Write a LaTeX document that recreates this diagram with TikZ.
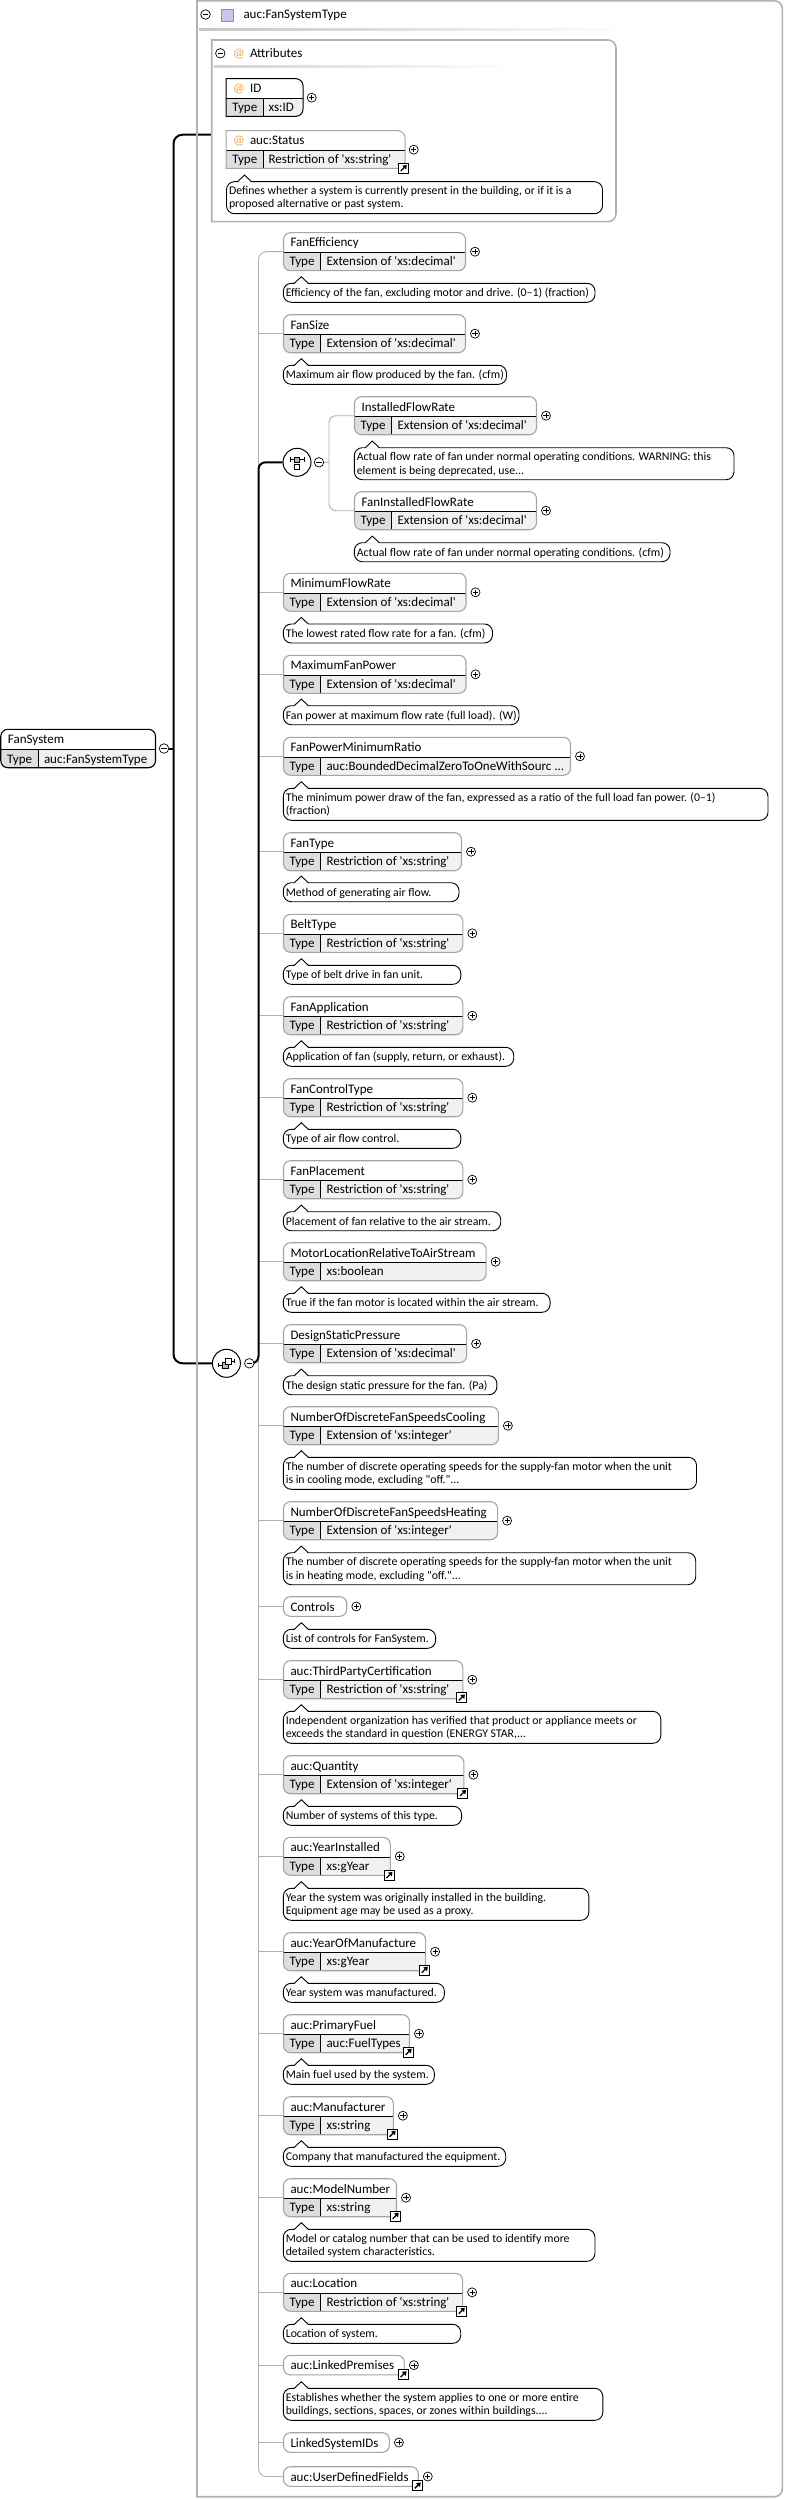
\documentclass[tikz,border=0pt]{standalone}
\usepackage{fontspec}
\setmainfont{Carlito}
\usetikzlibrary{backgrounds}
\definecolor{bgray}{RGB}{165,165,165}
\definecolor{ogray}{RGB}{178,178,178}
\definecolor{cgray}{RGB}{175,175,175}
\definecolor{tcell}{RGB}{222,222,222}
\definecolor{vcell}{RGB}{241,241,241}
\definecolor{atcol}{RGB}{235,160,60}
\definecolor{purp}{RGB}{205,195,235}
\definecolor{purpd}{RGB}{150,135,190}
\newcommand\squo{\textquotesingle}
\newcommand\dquo{\textquotedbl}
% element box with type row
\newcommand\EL[7]{%
 \begin{scope}
  \clip[rounded corners=7pt] (#2,#3) rectangle (#4,#3+38);
  \fill[tcell] (#2,#3+20) rectangle (#2+37,#3+38);
  \fill[vcell] (#2+37,#3+20) rectangle (#4,#3+38);
 \end{scope}
 \draw[line width=0.9pt] (#2,#3+20) -- (#4,#3+20) (#2+37,#3+20) -- (#2+37,#3+38);
 \node[elb, draw=#7, minimum width={(#4-#2)*1pt}, minimum height=38pt, anchor=north west] (#1) at (#2,#3) {};
 \node[txt] (#1-n) at (#2+7,#3+14.3) {#5};
 \node[txtc] (#1-t) at (#2+18.5,#3+33) {Type};
 \node[txt] (#1-v) at (#2+43,#3+33) {#6};
 \node[plusc] (#1-p) at (#4+9.5,#3+19) {};
}
% single row element
\newcommand\ES[5]{%
 \node[elb, draw=bgray, fill=white, minimum width={(#4-#2)*1pt}, minimum height=19.6pt, anchor=north west] (#1) at (#2,#3) {};
 \node[txt] (#1-n) at (#2+7,#3+14.3) {#5};
 \node[plusc] (#1-p) at (#4+9.6,#3+9.8) {};
}
% attribute box
\newcommand\AT[7]{%
 \begin{scope}
  \clip (#2,#3) -- (#4-7,#3) arc[start angle=90,end angle=0,radius=7pt] -- (#4,#3+30.6) arc[start angle=0,end angle=-90,radius=7pt] -- (#2,#3+37.6) -- cycle;
  \fill[tcell] (#2,#3+19.8) rectangle (#2+37.5,#3+37.6);
  \fill[vcell] (#2+37.5,#3+19.8) rectangle (#4,#3+37.6);
 \end{scope}
 \draw[line width=0.9pt] (#2,#3+19.8) -- (#4,#3+19.8) (#2+37.5,#3+19.8) -- (#2+37.5,#3+37.6);
 \draw[draw=#7, line width=1pt] (#2,#3) -- (#4-7,#3) arc[start angle=90,end angle=0,radius=7pt] -- (#4,#3+30.6) arc[start angle=0,end angle=-90,radius=7pt] -- (#2,#3+37.6) -- cycle;
 \node[anchor=north west, inner sep=0pt, minimum width={(#4-#2)*1pt}, minimum height=37.6pt] (#1) at (#2,#3) {};
 \node[txt, text=atcol] (#1-at) at (#2+7,#3+14.3) {@};
 \node[txt] (#1-n) at (#2+24,#3+14.3) {#5};
 \node[txtc] (#1-t) at (#2+18.75,#3+33) {Type};
 \node[txt] (#1-v) at (#2+42.5,#3+33) {#6};
 \node[plusc] (#1-p) at (#4+8.7,#3+19) {};
}
% arrow icon
\newcommand\AR[3]{%
 \node[arrb] (#1) at (#2,#3) {};
 \draw[line width=1.3pt] (#2-2.7,#3+2.7) -- (#2+1,#3-1);
 \fill (#2+3.3,#3-3.3) -- (#2-1.3,#3-2.6) -- (#2+2.6,#3+1.3) -- cycle;
}
% one-line description
\newcommand\DA[5]{%
 \node[descb, minimum width={(#4-#2)*1pt}, minimum height=19pt, anchor=north west] (#1) at (#2,#3) {};
 \fill[white] (#2+11,#3+0.8) -- (#2+18,#3-6.6) -- (#2+25,#3+0.8) -- cycle;
 \draw[line width=0.9pt] (#2+11,#3) -- (#2+18,#3-6.6) -- (#2+25,#3);
 \node[txtd] (#1-a) at (#2+2.5,#3+13.6) {#5};
}
% two-line description
\newcommand\DB[6]{%
 \node[descb, minimum width={(#4-#2)*1pt}, minimum height=32pt, anchor=north west] (#1) at (#2,#3) {};
 \fill[white] (#2+11,#3+0.8) -- (#2+18,#3-6.6) -- (#2+25,#3+0.8) -- cycle;
 \draw[line width=0.9pt] (#2+11,#3) -- (#2+18,#3-6.6) -- (#2+25,#3);
 \node[txtd] (#1-a) at (#2+2.5,#3+13) {#5};
 \node[txtd] (#1-b) at (#2+2.5,#3+26.3) {#6};
}
\begin{document}
\begin{tikzpicture}[x=1pt,y=-1pt,
  font=\fontsize{13}{15}\selectfont,
  txt/.style={anchor=base west, inner sep=0pt, outer sep=0pt},
  txtd/.style={anchor=base west, inner sep=0pt, outer sep=0pt, font=\fontsize{11.8}{14}\selectfont},
  txtc/.style={anchor=base, inner sep=0pt, outer sep=0pt},
  elb/.style={rectangle, rounded corners=7pt, line width=1.1pt, inner sep=0pt, outer sep=0pt},
  descb/.style={rectangle, draw, rounded corners=8pt, line width=0.9pt, fill=white, inner sep=0pt, outer sep=0pt},
  arrb/.style={rectangle, draw, fill=white, line width=0.9pt, minimum size=10pt, inner sep=0pt},
  plusc/.style={circle, draw, line width=0.7pt, minimum size=9pt, inner sep=0pt, fill=white,
    path picture={\draw[line width=0.7pt] ([xshift=-2.6pt]path picture bounding box.center) -- ([xshift=2.6pt]path picture bounding box.center) ([yshift=-2.6pt]path picture bounding box.center) -- ([yshift=2.6pt]path picture bounding box.center);}},
  minusc/.style={circle, draw, line width=0.7pt, minimum size=9.5pt, inner sep=0pt, fill=white,
    path picture={\draw[line width=0.8pt] ([xshift=-2.6pt]path picture bounding box.center) -- ([xshift=2.6pt]path picture bounding box.center);}},
  iconc/.style={circle, draw, line width=1pt, minimum size=28pt, inner sep=0pt, fill=white},
  conn/.style={draw=cgray, line width=0.9pt},
  bold/.style={draw=black, line width=2pt},
  obox/.style={draw=ogray, line width=1.6pt}
]
\useasboundingbox (0,0) rectangle (785,2499);

% outer type box
\draw[obox] (197,0.8) -- (774.3,0.8) arc[start angle=90,end angle=0,radius=8pt] -- (782.3,2488.7) arc[start angle=0,end angle=-90,radius=8pt] -- (197,2496.7) -- cycle;
\node[minusc] (tm) at (205.5,14.5) {};
\node[draw=purpd, fill=purp, line width=0.7pt, minimum width=12pt, minimum height=12pt, inner sep=0pt] (ticon) at (227,15) {};
\node[txt] (ttitle) at (243.5,19) {auc:FanSystemType};
\shade[left color=gray!45, right color=white] (199,28.3) rectangle (635,30.5);

% attributes container
\draw[obox] (211.7,40) -- (608,40) arc[start angle=90,end angle=0,radius=8pt] -- (616,213.7) arc[start angle=0,end angle=-90,radius=8pt] -- (211.7,221.7) -- cycle;
\node[minusc] (am) at (220.3,53.3) {};
\node[txt, text=atcol] (aat) at (233,57.8) {@};
\node[txt] (atitle) at (250,57.8) {Attributes};
\shade[left color=gray!35, right color=white] (214,65.7) rectangle (520,67.8);
\coordinate (attrw) at (211.7,134.7);

\AT{id}{226}{78.7}{303}{ID}{xs:ID}{black}
\AT{st}{226}{130.7}{405}{auc:Status}{Restriction of \squo xs:string\squo}{bgray}
\AR{sta}{403.5}{168.3}
\DB{std}{226.5}{181.7}{602.5}{Defines whether a system is currently present in the building, or if it is a}{proposed alternative or past system.}

% FanSystem element
\begin{scope}
 \clip[rounded corners=7pt] (0.8,729.3) rectangle (155.5,767.7);
 \fill[tcell] (0.8,749.3) rectangle (38.5,767.7);
 \fill[vcell] (38.5,749.3) rectangle (155.5,767.7);
\end{scope}
\draw[line width=0.9pt] (0.8,749.3) -- (155.5,749.3) (38.5,749.3) -- (38.5,767.7);
\node[elb, draw=black, minimum width=154.7pt, minimum height=38.4pt, anchor=north west] (fsys) at (0.8,729.3) {};
\node[txt] (fsys-n) at (8,743.6) {FanSystem};
\node[txtc] (fsys-t) at (19.6,763) {Type};
\node[txt] (fsys-v) at (44,763) {auc:FanSystemType};
\node[minusc] (fsm) at (164,748.5) {};
\coordinate (hub) at (173.5,748.5);

% sequence compositor
\node[iconc] (seq) at (226.4,1363.3) {};
\draw[fill=gray!55, line width=0.6pt] (222.4,1362.3) rectangle (228.4,1368.3);
\draw[fill=white, line width=0.6pt] (225.4,1358.3) rectangle (231.4,1364.3);
\draw[line width=0.6pt] (218.4,1365.3) -- (222.4,1365.3) (218.4,1363.3) -- (218.4,1367.3) (231.4,1361.3) -- (234.4,1361.3) (234.4,1359.3) -- (234.4,1363.3);
\node[minusc] (seqm) at (249.3,1363.3) {};
\coordinate (sj) at (258.5,1363.3);

% choice compositor
\node[iconc] (ch) at (297,462.3) {};
\draw[line width=0.7pt] (290,459.3) -- (304,459.3) (290,456.8) -- (290,461.8) (304,456.8) -- (304,461.8);
\draw[fill=gray!60, line width=0.6pt] (294.5,456.8) rectangle (299.5,461.8);
\draw[fill=white, line width=0.6pt] (294.5,464) rectangle (299.5,469);
\node[minusc] (chm) at (319,462.3) {};
\coordinate (cj) at (329,462.3);

% sequence children
\EL{fe}{283.5}{232.7}{465.5}{FanEfficiency}{Extension of \squo xs:decimal\squo}{bgray}
\DA{fed}{283.3}{283.3}{595}{Efficiency of the fan, excluding motor and drive. (0\textendash1) (fraction)}
\EL{fs}{283.5}{314.7}{465.5}{FanSize}{Extension of \squo xs:decimal\squo}{bgray}
\DA{fsd}{283.3}{365.3}{506.5}{Maximum air flow produced by the fan. (cfm)}
\EL{ifr}{354.5}{396.7}{536.5}{InstalledFlowRate}{Extension of \squo xs:decimal\squo}{bgray}
\DB{ifrd}{354.3}{447.7}{734}{Actual flow rate of fan under normal operating conditions. WARNING: this}{element is being deprecated, use...}
\EL{fifr}{354.5}{491.7}{536.5}{FanInstalledFlowRate}{Extension of \squo xs:decimal\squo}{bgray}
\DA{fifrd}{354.3}{542.7}{670}{Actual flow rate of fan under normal operating conditions. (cfm)}
\EL{mfr}{283.5}{573.3}{466}{MinimumFlowRate}{Extension of \squo xs:decimal\squo}{bgray}
\DA{mfrd}{283.3}{624}{492.5}{The lowest rated flow rate for a fan. (cfm)}
\EL{mfp}{283.5}{655.3}{466}{MaximumFanPower}{Extension of \squo xs:decimal\squo}{bgray}
\DA{mfpd}{283.3}{705.7}{519}{Fan power at maximum flow rate (full load). (W)}
\EL{fpmr}{283.5}{737.3}{570.5}{FanPowerMinimumRatio}{auc:BoundedDecimalZeroToOneWithSourc ...}{bgray}
\DB{fpmrd}{283.3}{788.3}{768}{The minimum power draw of the fan, expressed as a ratio of the full load fan power. (0\textendash1)}{(fraction)}
\EL{ft}{283.5}{832.7}{461.5}{FanType}{Restriction of \squo xs:string\squo}{bgray}
\DA{ftd}{283.3}{882.7}{459}{Method of generating air flow.}
\EL{bt}{283.5}{914.3}{462.8}{BeltType}{Restriction of \squo xs:string\squo}{bgray}
\DA{btd}{283.3}{965.3}{460.8}{Type of belt drive in fan unit.}
\EL{fa}{283.5}{996.7}{462.8}{FanApplication}{Restriction of \squo xs:string\squo}{bgray}
\DA{fad}{283.3}{1047.3}{513.7}{Application of fan (supply, return, or exhaust).}
\EL{fct}{283.5}{1078.7}{462.8}{FanControlType}{Restriction of \squo xs:string\squo}{bgray}
\DA{fctd}{283.3}{1129.3}{460.8}{Type of air flow control.}
\EL{fp}{283.5}{1160.7}{462.8}{FanPlacement}{Restriction of \squo xs:string\squo}{bgray}
\DA{fpd}{283.3}{1211.7}{500.7}{Placement of fan relative to the air stream.}
\EL{ml}{283.5}{1242.7}{486.1}{MotorLocationRelativeToAirStream}{xs:boolean}{bgray}
\DA{mld}{283.3}{1293.3}{550.1}{True if the fan motor is located within the air stream.}
\EL{dsp}{283.5}{1324.7}{466.6}{DesignStaticPressure}{Extension of \squo xs:decimal\squo}{bgray}
\DA{dspd}{283.3}{1375.7}{496.9}{The design static pressure for the fan. (Pa)}
\EL{nc}{283.5}{1406.7}{498.4}{NumberOfDiscreteFanSpeedsCooling}{Extension of \squo xs:integer\squo}{bgray}
\DB{ncd}{283.3}{1457.3}{696.5}{The number of discrete operating speeds for the supply-fan motor when the unit}{is in cooling mode, excluding \dquo off.\dquo...}
\EL{nh}{283.5}{1501.7}{497.6}{NumberOfDiscreteFanSpeedsHeating}{Extension of \squo xs:integer\squo}{bgray}
\DB{nhd}{283.3}{1552.7}{695.7}{The number of discrete operating speeds for the supply-fan motor when the unit}{is in heating mode, excluding \dquo off.\dquo...}
\ES{ctl}{283.5}{1596.7}{346.7}{Controls}
\DA{ctld}{283.3}{1629.3}{435.6}{List of controls for FanSystem.}
\EL{tpc}{283.5}{1660.7}{462.8}{auc:ThirdPartyCertification}{Restriction of \squo xs:string\squo}{bgray}
\AR{tpca}{461.6}{1697.7}
\DB{tpcd}{283.3}{1711.3}{660.8}{Independent organization has verified that product or appliance meets or}{exceeds the standard in question (ENERGY STAR,...}
\EL{qty}{283.5}{1755.7}{463.9}{auc:Quantity}{Extension of \squo xs:integer\squo}{bgray}
\AR{qtya}{462.7}{1793.2}
\DA{qtyd}{283.3}{1806.3}{461.6}{Number of systems of this type.}
\EL{yi}{283.5}{1837.3}{390.3}{auc:YearInstalled}{xs:gYear}{bgray}
\AR{yia}{389.2}{1875.2}
\DB{yid}{283.3}{1888.3}{588.8}{Year the system was originally installed in the building.}{Equipment age may be used as a proxy.}
\EL{yom}{283.5}{1932.7}{425.6}{auc:YearOfManufacture}{xs:gYear}{bgray}
\AR{yoma}{424.5}{1970}
\DA{yomd}{283.3}{1983.3}{444.4}{Year system was manufactured.}
\EL{pf}{283.5}{2014.7}{409.5}{auc:PrimaryFuel}{auc:FuelTypes}{bgray}
\AR{pfa}{408.4}{2052}
\DA{pfd}{283.3}{2065.3}{434.4}{Main fuel used by the system.}
\EL{mf}{283.5}{2096.7}{393.4}{auc:Manufacturer}{xs:string}{bgray}
\AR{mfa}{392.3}{2134}
\DA{mfd}{283.3}{2147.3}{505.7}{Company that manufactured the equipment.}
\EL{mn}{283.5}{2178.7}{396.5}{auc:ModelNumber}{xs:string}{bgray}
\AR{mna}{395.4}{2216}
\DB{mnd}{283.3}{2229.3}{595}{Model or catalog number that can be used to identify more}{detailed system characteristics.}
\EL{loc}{283.5}{2273.3}{462.6}{auc:Location}{Restriction of \squo xs:string\squo}{bgray}
\AR{loca}{461.5}{2311}
\DA{locd}{283.3}{2324.3}{460.7}{Location of system.}
\ES{lp}{283.5}{2355.3}{404.3}{auc:LinkedPremises}
\AR{lpa}{403.2}{2374.5}
\DB{lpd}{283.3}{2388.3}{602.8}{Establishes whether the system applies to one or more entire}{buildings, sections, spaces, or zones within buildings....}
\ES{lsid}{283.5}{2432.7}{389.3}{LinkedSystemIDs}
\ES{udf}{283.5}{2466.7}{418.2}{auc:UserDefinedFields}
\AR{udfa}{417.4}{2485.7}

% connectors
\begin{pgfonlayer}{background}
 \draw[conn, rounded corners=8pt] (fe.west) -- ++(-25,0) |- (udf.west);
 \foreach \n in {fs,mfr,mfp,fpmr,ft,bt,fa,fct,fp,ml,dsp,nc,nh,ctl,tpc,qty,yi,yom,pf,mf,mn,loc,lp,lsid}
   \draw[conn] (\n.west) -- ++(-25,0);
 \draw[conn] (chm.east) -- (cj);
 \draw[conn, rounded corners=7pt] (ifr.west) -- ++(-25.5,0) |- (fifr.west);
 \draw[bold, rounded corners=9pt] (attrw) -| (hub) |- (seq.west);
 \draw[bold] (fsm.east) -- (hub);
 \draw[bold, rounded corners=7pt] (seqm.east) -- (sj) |- (ch.west);
\end{pgfonlayer}
\end{tikzpicture}
\end{document}
